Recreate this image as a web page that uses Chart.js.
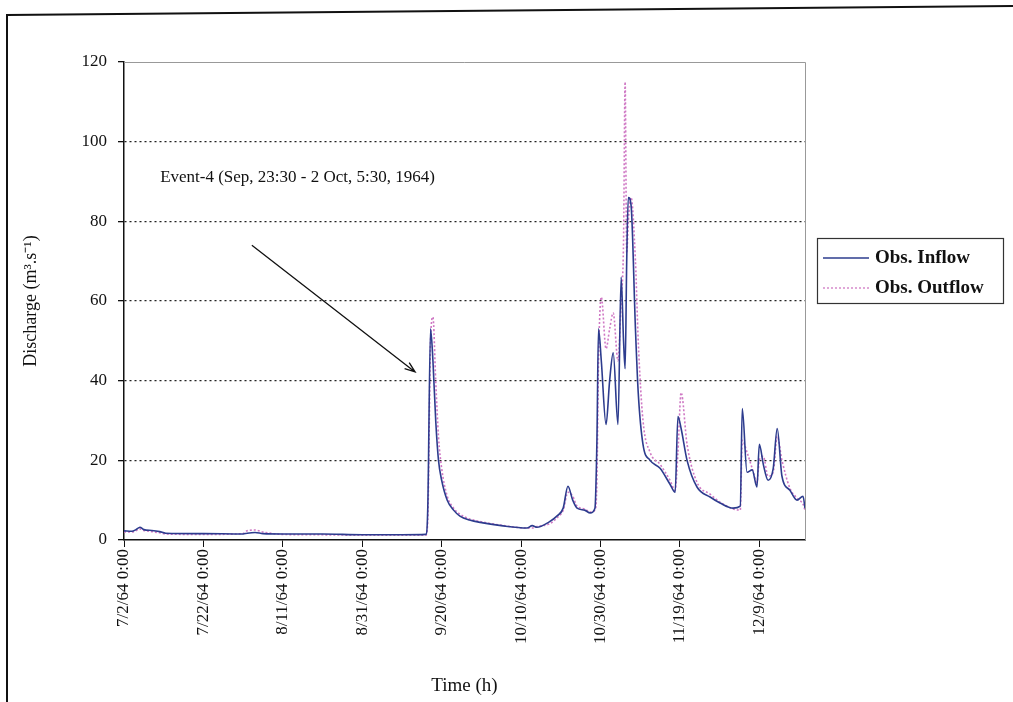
<!DOCTYPE html>
<html>
<head>
<meta charset="utf-8">
<script src="https://cdn.jsdelivr.net/npm/chart.js@4.4.0/dist/chart.umd.min.js"></script>
<style>
  html, body { margin: 0; padding: 0; background: #fff; }
  #wrap { width: 1013px; height: 702px; }
</style>
</head>
<body>
<div id="wrap"><canvas id="flowChart" width="1013" height="702"></canvas></div>
<script>
// Time axis: days since 7/2/64 0:00
const tickDays = [0, 20, 40, 60, 80, 100, 120, 140, 160];
const tickLabels = ['7/2/64 0:00', '7/22/64 0:00', '8/11/64 0:00', '8/31/64 0:00', '9/20/64 0:00',
  '10/10/64 0:00', '10/30/64 0:00', '11/19/64 0:00', '12/9/64 0:00'];
const yTicks = [0, 20, 40, 60, 80, 100, 120];

const days = [0, 2, 3, 4, 5, 7, 9, 10.5, 20, 30, 31, 33, 35, 40, 50, 60, 70, 76, 76.5, 77.2, 77.8, 78.5,
  79.2, 80, 81.4, 83, 84.6, 87, 90.4, 95, 101.5, 102.8, 104, 107, 109, 110.6, 111.8, 113, 114.1, 116,
  117.4, 118.6, 119.1, 119.5, 120.2, 121.4, 122.3, 123.2, 124.4, 125.2, 125.8, 126.2, 126.6, 127, 127.7,
  128.8, 129.5, 130.7, 132.5, 135, 137.5, 138.8, 139.5, 140.3, 141.8, 144.3, 147.6, 150.1, 153.4, 155.2,
  155.7, 156.9, 158.2, 159.4, 160, 161, 162.2, 163.5, 164.5, 165.7, 167.7, 169.5, 171, 171.5];

const inflow = [2.3, 2.2, 2.6, 3.2, 2.6, 2.4, 2.1, 1.7, 1.6, 1.5, 1.7, 1.9, 1.6, 1.5, 1.5, 1.3, 1.3, 1.4, 8, 53, 45, 30,
  20, 15, 10, 7.5, 6, 5, 4.3, 3.6, 3, 3.6, 3.2, 4.5, 6, 8, 13.5, 10, 8, 7.5,
  6.8, 8, 25, 53, 45, 29, 40, 47, 29, 66, 50, 43, 70, 86, 84,
  53, 37, 24, 20, 18, 14, 12, 31, 28, 20, 13.3, 10.8, 9.3, 8, 8.5,
  33, 17, 17.6, 13.3, 24, 19, 15, 18, 28, 16, 12.5, 10, 11, 8];

const outflow = [2, 2, 2.3, 2.8, 2.4, 2.1, 1.8, 1.5, 1.4, 1.6, 2.3, 2.5, 2, 1.4, 1.3, 1.2, 1.2, 1.2, 5, 50, 56, 40,
  26, 18, 11, 8, 6.5, 5.3, 4.5, 3.7, 3, 3, 3.4, 4, 5.5, 7.5, 12, 11, 8.5, 7.8,
  7, 7.5, 15, 45, 61, 48, 53, 57, 45, 60, 75, 115, 72, 80, 86,
  70, 50, 30, 22, 19, 15, 12.5, 22, 37, 24, 14.5, 11.5, 9.5, 7.8, 7.5,
  25, 22, 18, 14.5, 20, 21, 16, 17, 26, 20, 13, 10.5, 9, 7.5];

// annotation anchored in data units
const noteText = 'Event-4 (Sep, 23:30 - 2 Oct, 5:30, 1964)';
const notePos = [9.1, 91];
const arrowFrom = [32.2, 74];
const arrowTo = [73.3, 42.2];

const serif = '"Liberation Serif", "Times New Roman", serif';

const framePlugin = {
  id: 'frame',
  beforeDraw(chart) {
    const ctx = chart.ctx;
    ctx.save();
    ctx.fillStyle = '#fff';
    ctx.fillRect(0, 0, chart.width, chart.height);
    ctx.strokeStyle = '#111';
    ctx.lineWidth = 2;
    ctx.beginPath();
    ctx.moveTo(7, 702);
    ctx.lineTo(7, 15);
    ctx.lineTo(1013, 6);
    ctx.stroke();
    ctx.restore();
  },
  beforeDatasetsDraw(chart) {
    const a = chart.chartArea;
    const ctx = chart.ctx;
    ctx.save();
    ctx.strokeStyle = '#999';
    ctx.lineWidth = 1;
    ctx.beginPath();
    ctx.moveTo(a.left, a.top + 0.5);
    ctx.lineTo(a.right + 0.5, a.top + 0.5);
    ctx.lineTo(a.right + 0.5, a.bottom);
    ctx.stroke();
    ctx.restore();
  },
  afterDraw(chart) {
    const ctx = chart.ctx;
    const xs = chart.scales.x, ys = chart.scales.y;
    ctx.save();
    // annotation
    ctx.fillStyle = '#111';
    ctx.font = '17px ' + serif;
    ctx.textBaseline = 'middle';
    ctx.fillText(noteText, xs.getPixelForValue(notePos[0]), ys.getPixelForValue(notePos[1]));
    const x1 = xs.getPixelForValue(arrowFrom[0]), y1 = ys.getPixelForValue(arrowFrom[1]);
    const x2 = xs.getPixelForValue(arrowTo[0]), y2 = ys.getPixelForValue(arrowTo[1]);
    ctx.strokeStyle = '#111';
    ctx.lineWidth = 1.3;
    ctx.beginPath();
    ctx.moveTo(x1, y1);
    ctx.lineTo(x2, y2);
    const ang = Math.atan2(y2 - y1, x2 - x1);
    ctx.moveTo(x2 - 11 * Math.cos(ang - 0.35), y2 - 11 * Math.sin(ang - 0.35));
    ctx.lineTo(x2, y2);
    ctx.lineTo(x2 - 11 * Math.cos(ang + 0.35), y2 - 11 * Math.sin(ang + 0.35));
    ctx.stroke();

    // legend box
    ctx.strokeStyle = '#333';
    ctx.lineWidth = 1.2;
    ctx.strokeRect(817.5, 238.5, 186, 65);
    ctx.font = 'bold 19px ' + serif;
    chart.data.datasets.forEach((ds, i) => {
      const y = 258 + i * 30;
      ctx.strokeStyle = ds.borderColor;
      ctx.lineWidth = 1.3;
      ctx.setLineDash(ds.borderDash || []);
      ctx.beginPath();
      ctx.moveTo(823, y);
      ctx.lineTo(869, y);
      ctx.stroke();
      ctx.setLineDash([]);
      ctx.fillStyle = '#111';
      ctx.fillText(ds.label, 875, y);
    });
    ctx.restore();
  }
};

new Chart(document.getElementById('flowChart'), {
  type: 'line',
  data: {
    datasets: [{
      label: 'Obs. Inflow',
      data: days.map((d, i) => ({ x: d, y: inflow[i] })),
      borderColor: '#2d3c8e',
      borderWidth: 1.6,
      pointRadius: 0,
      cubicInterpolationMode: 'monotone',
      order: 1
    }, {
      label: 'Obs. Outflow',
      data: days.map((d, i) => ({ x: d, y: outflow[i] })),
      borderColor: '#cf78c4',
      borderWidth: 1.6,
      borderDash: [2, 2],
      pointRadius: 0,
      cubicInterpolationMode: 'monotone',
      order: 2
    }]
  },
  options: {
    responsive: false,
    animation: false,
    layout: { padding: { top: 62, right: 208, bottom: 0, left: 0 } },
    plugins: { legend: { display: false }, tooltip: { enabled: false } },
    scales: {
      x: {
        type: 'linear',
        min: 0,
        max: 171.5,
        afterBuildTicks: s => { s.ticks = tickDays.map(v => ({ value: v })); },
        afterFit: s => { s.height = 162; },
        grid: { display: true, drawOnChartArea: false, drawTicks: true, tickLength: 7, tickColor: '#111' },
        border: { display: true, color: '#111', width: 1.5 },
        ticks: {
          autoSkip: false,
          maxRotation: 90,
          minRotation: 90,
          padding: 2,
          color: '#111',
          font: { family: serif, size: 17 },
          callback: v => tickLabels[tickDays.indexOf(v)] || ''
        },
        title: {
          display: true,
          text: 'Time (h)',
          color: '#111',
          font: { family: serif, size: 19 },
          padding: { top: 0, bottom: 5 }
        }
      },
      y: {
        min: 0,
        max: 120,
        afterBuildTicks: s => { s.ticks = yTicks.map(v => ({ value: v })); },
        afterFit: s => { s.width = 124; },
        grid: {
          color: c => (c.tick.value === 0 || c.tick.value === 120) ? 'rgba(0,0,0,0)' : '#222',
          lineWidth: 1.3,
          tickLength: 6,
          tickColor: '#111',
          tickBorderDash: []
        },
        border: { display: true, color: '#111', width: 1.5, dash: [2, 3] },
        ticks: {
          padding: 11,
          color: '#111',
          font: { family: serif, size: 17 }
        },
        title: {
          display: true,
          text: 'Discharge (m\u00B3.s\u207B\u00B9)',
          color: '#111',
          font: { family: serif, size: 18 },
          padding: { top: 20, bottom: 0 }
        }
      }
    }
  },
  plugins: [framePlugin]
});
</script>
</body>
</html>
